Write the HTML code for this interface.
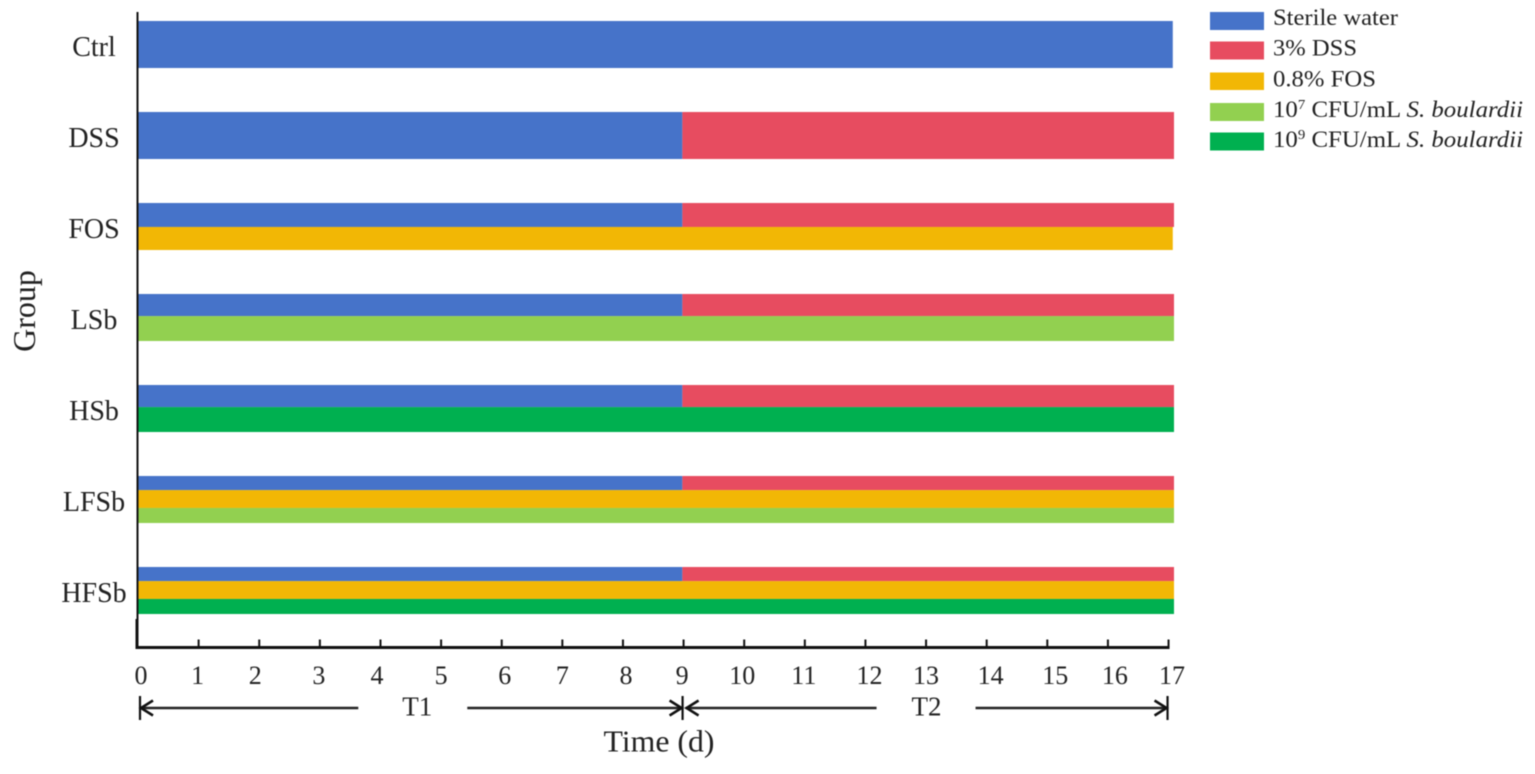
<!DOCTYPE html>
<html lang="en">
<head>
<meta charset="utf-8">
<title>Experimental treatment timeline</title>
<style>
html,body{margin:0;padding:0;background:#fff;width:1535px;height:774px;overflow:hidden}
svg{display:block;filter:blur(0.45px)}
text{font-family:"Liberation Serif",serif;fill:#222}
</style>
</head>
<body>
<svg id="chart" xmlns="http://www.w3.org/2000/svg" width="1535" height="774" viewBox="0 0 1535 774">
  <g id="bars"></g>
  <g id="axes"></g>
  <g id="periods"></g>
  <text transform="translate(35,311) rotate(-90)" text-anchor="middle" font-size="32">Group</text>
  <text x="659" y="751.5" text-anchor="middle" font-size="31" textLength="111" lengthAdjust="spacingAndGlyphs">Time (d)</text>
  <g>
    <rect x="1210" y="12" width="54" height="18" fill="#4673C9"/>
    <text x="1273" y="25" font-size="23.5" textLength="125" lengthAdjust="spacingAndGlyphs">Sterile water</text>
    <rect x="1210" y="41.5" width="54" height="18" fill="#E74C60"/>
    <text x="1273" y="55.5" font-size="23.5" textLength="84" lengthAdjust="spacingAndGlyphs">3% DSS</text>
    <rect x="1210" y="72.5" width="54" height="17.5" fill="#F2B705"/>
    <text x="1273" y="86.5" font-size="23.5" textLength="103" lengthAdjust="spacingAndGlyphs">0.8% FOS</text>
    <rect x="1210" y="103" width="54" height="18" fill="#92D050"/>
    <text x="1273" y="117" font-size="23.5" textLength="250" lengthAdjust="spacingAndGlyphs">10<tspan font-size="14" dy="-8">7</tspan><tspan dy="8"> CFU/mL </tspan><tspan font-style="italic">S. boulardii</tspan></text>
    <rect x="1210" y="132.5" width="54" height="18" fill="#00B050"/>
    <text x="1273" y="147" font-size="23.5" textLength="250" lengthAdjust="spacingAndGlyphs">10<tspan font-size="14" dy="-8">9</tspan><tspan dy="8"> CFU/mL </tspan><tspan font-style="italic">S. boulardii</tspan></text>
  </g>
</svg>
<script>
const groups = ['Ctrl', 'DSS', 'FOS', 'LSb', 'HSb', 'LFSb', 'HFSb'];
const sterileWaterDays = [17.07, 8.98, 8.98, 8.98, 8.98, 8.98, 8.98];
const dssDays = [0, 8.11, 8.11, 8.11, 8.11, 8.11, 8.11];
const fosDays = [0, 0, 17.07, 0, 0, 17.09, 17.09];
const lowSbDays = [0, 0, 0, 17.09, 0, 17.09, 0];
const highSbDays = [0, 0, 0, 0, 17.09, 0, 17.09];
const timeTicks = [0, 1, 2, 3, 4, 5, 6, 7, 8, 9, 10, 11, 12, 13, 14, 15, 16, 17];
const periodNames = ['T1', 'T2'];
const periodStarts = [0, 9];
const periodEnds = [9, 17];

const NS = 'http://www.w3.org/2000/svg';
const COLORS = { water: '#4673C9', dss: '#E74C60', fos: '#F2B705', low: '#92D050', high: '#00B050' };
const BAND_H = 47;
const TICK_LABEL_NUDGE = [3, -1, -4, -1, -3.5, 0, 3, 0, 3, -1.5, -2, -1, 4, 0, 4, 8, 7, 3.5];
const PERIOD_LAYOUT = [
  { off: 6, gapL: 59, gapR: 50 },
  { off: 0, gapL: 50, gapR: 49 }
];

function x(day) { return 138 + day * 60.62; }
function bandTop(i) { return 21 + i * 91; }
function layerShares(lower) {
  if (lower.length === 0) return [1];
  if (lower.length === 2) return [0.3, 0.38, 0.32];
  return lower[0].key === 'fos' ? [0.51, 0.49] : [0.47, 0.53];
}

function make(tag, attrs, parent, text) {
  const node = document.createElementNS(NS, tag);
  for (const k in attrs) node.setAttribute(k, attrs[k]);
  if (text !== undefined) node.textContent = text;
  parent.appendChild(node);
  return node;
}

const barsG = document.getElementById('bars');
const axesG = document.getElementById('axes');
const periodsG = document.getElementById('periods');

groups.forEach(function (name, i) {
  const lower = [];
  if (fosDays[i] > 0) lower.push({ key: 'fos', days: fosDays[i] });
  if (lowSbDays[i] > 0) lower.push({ key: 'low', days: lowSbDays[i] });
  if (highSbDays[i] > 0) lower.push({ key: 'high', days: highSbDays[i] });
  const splits = layerShares(lower);
  let y = bandTop(i);

  const h0 = BAND_H * splits[0];
  const waterBar = make('rect', { x: x(0), y: y, width: x(sterileWaterDays[i]) - x(0), height: h0, fill: COLORS.water }, barsG);
  
  
  if (dssDays[i] > 0) {
    const dssBar = make('rect', { x: x(sterileWaterDays[i]), y: y, width: x(sterileWaterDays[i] + dssDays[i]) - x(sterileWaterDays[i]), height: h0, fill: COLORS.dss }, barsG);
    
    
  }
  y += h0;
  lower.forEach(function (layer, j) {
    const h = BAND_H * splits[j + 1];
    const bar = make('rect', { x: x(0), y: y, width: x(layer.days) - x(0), height: h, fill: COLORS[layer.key] }, barsG);
    
    
    y += h;
  });

  const label = make('text', { x: 94, y: bandTop(i) + 35, 'text-anchor': 'middle', 'font-size': 28 }, axesG, name);
  
  
});

const yAxis = make('line', { x1: 137.5, y1: 12, x2: 137.5, y2: 620, stroke: '#111', 'stroke-width': 2 }, axesG);


const yAxisLower = make('line', { x1: 137, y1: 619, x2: 137, y2: 649, stroke: '#111', 'stroke-width': 3 }, axesG);


const xAxis = make('line', { x1: 136, y1: 647.5, x2: x(17) + 1, y2: 647.5, stroke: '#111', 'stroke-width': 3 }, axesG);



timeTicks.forEach(function (t, i) {
  if (t > 0) {
    const tick = make('line', { x1: x(t), y1: 639.5, x2: x(t), y2: 647, stroke: '#111', 'stroke-width': 2 }, axesG);
    
    
  }
  const tickLabel = make('text', { x: x(t) + TICK_LABEL_NUDGE[i], y: 684, 'text-anchor': 'middle', 'font-size': 26 }, axesG, String(t));
  
  
});

function arrowLine(x1, x2, dir) {
  const ln = make('line', { x1: x1, y1: 708, x2: x2, y2: 708, stroke: '#222', 'stroke-width': 2.5 }, periodsG);
  
  
  const tip = dir < 0 ? x1 + 1 : x2 - 1;
  const head = make('polyline', {
    points: (tip - dir * 12) + ',700.5 ' + tip + ',708 ' + (tip - dir * 12) + ',715.5',
    fill: 'none', stroke: '#111', 'stroke-width': 2.6
  }, periodsG);
  
  
}

periodNames.forEach(function (name, i) {
  const a = x(periodStarts[i]) + 2;
  const b = x(periodEnds[i]) - 1;
  const mid = (a + b) / 2;
  const layout = PERIOD_LAYOUT[i];
  const center = mid + layout.off;
  arrowLine(a, center - layout.gapL, -1);
  arrowLine(center + layout.gapR, b, 1);
  const label = make('text', { x: center, y: 715.5, 'text-anchor': 'middle', 'font-size': 27 }, periodsG, name);
  
  
});

[0, 9, 17].forEach(function (d) {
  const bx = x(d) + (d === 0 ? 2 : -1);
  const sep = make('line', { x1: bx, y1: 696, x2: bx, y2: 720, stroke: '#111', 'stroke-width': 2.2 }, periodsG);
  
  
});
</script>
</body>
</html>
